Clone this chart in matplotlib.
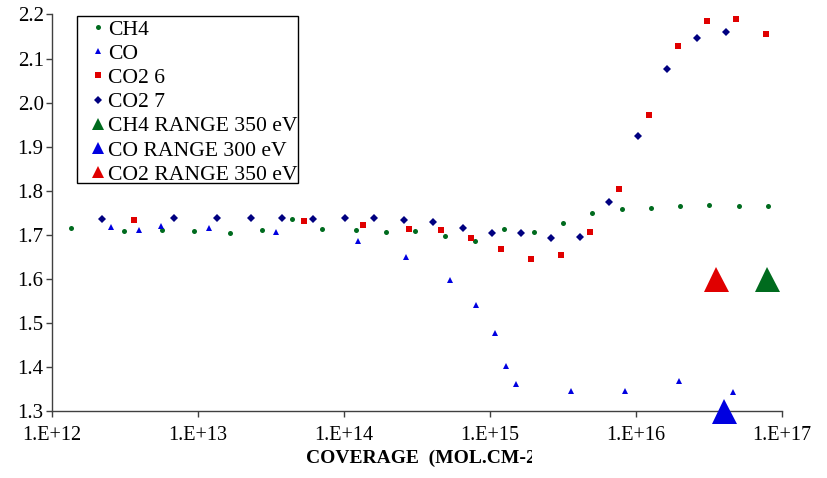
import matplotlib
matplotlib.use('Agg')
import matplotlib.pyplot as plt
from matplotlib.lines import Line2D
from matplotlib.patches import Rectangle
from matplotlib.transforms import Bbox, TransformedBbox

plt.rcParams['font.family'] = ['Liberation Serif', 'DejaVu Serif']

# CH4
ch4_x = [1.35e12, 3.13e12, 5.64e12, 9.4e12, 1.66e13, 2.73e13, 4.39e13, 7.1e13,
         1.20e14, 1.95e14, 3.08e14, 4.94e14, 7.9e14, 1.25e15, 1.99e15, 3.16e15,
         5.02e15, 7.98e15, 1.26e16, 2.01e16, 3.18e16, 5.05e16, 7.98e16]
ch4_y = [1.715, 1.709, 1.711, 1.708, 1.704, 1.711, 1.736, 1.713,
         1.711, 1.706, 1.709, 1.698, 1.686, 1.713, 1.707, 1.727,
         1.749, 1.758, 1.760, 1.766, 1.767, 1.766, 1.766]

# CO
co_x = [2.55e12, 3.94e12, 5.58e12, 1.19e13, 3.42e13, 1.24e14, 2.65e14, 5.36e14,
        7.98e14, 1.08e15, 1.28e15, 1.51e15, 3.56e15, 8.4e15, 1.98e16, 4.61e16]
co_y = [1.717, 1.711, 1.720, 1.715, 1.707, 1.686, 1.650, 1.597,
        1.540, 1.478, 1.402, 1.362, 1.345, 1.346, 1.367, 1.344]

# CO2 6
co2_6_x = [3.63e12, 5.35e13, 1.36e14, 2.77e14, 4.64e14, 7.41e14, 1.19e15, 1.92e15,
           3.05e15, 4.86e15, 7.69e15, 1.22e16, 1.95e16, 3.08e16, 4.86e16, 7.76e16]
co2_6_y = [1.733, 1.732, 1.722, 1.714, 1.711, 1.692, 1.667, 1.645,
           1.654, 1.706, 1.805, 1.972, 2.128, 2.186, 2.189, 2.156]

# CO2 7
co2_7_x = [2.19e12, 6.82e12, 1.36e13, 2.31e13, 3.78e13, 6.17e13, 1.01e14, 1.61e14,
           2.56e14, 4.07e14, 6.5e14, 1.03e15, 1.64e15, 2.6e15, 4.13e15, 6.56e15,
           1.04e16, 1.64e16, 2.61e16, 4.13e16]
co2_7_y = [1.736, 1.738, 1.738, 1.738, 1.739, 1.736, 1.737, 1.737,
           1.733, 1.729, 1.715, 1.703, 1.704, 1.692, 1.695, 1.774,
           1.924, 2.077, 2.147, 2.161]

# range markers
ch4_range = (7.85e16, 1.6)
co_range = (4.01e16, 1.3)
co2_range = (3.52e16, 1.6)

x_ticks = [1e12, 1e13, 1e14, 1e15, 1e16, 1e17]
x_tick_labels = ['1.E+12', '1.E+13', '1.E+14', '1.E+15', '1.E+16', '1.E+17']
y_ticks = [1.3, 1.4, 1.5, 1.6, 1.7, 1.8, 1.9, 2.0, 2.1, 2.2]

green = '#006b1e'
blue = '#0000e0'
red = '#e00000'
navy = '#000080'

fig = plt.figure(figsize=(8.28, 4.78), dpi=100)
ax = fig.add_axes([52 / 828, 67 / 478, 730 / 828, 396.5 / 478])

ax.plot(ch4_x, ch4_y, 'o', ms=3.6, color=green, mew=0, label='CH4', clip_on=False)
ax.plot(co_x, co_y, '^', ms=5, color=blue, mew=0, label='CO', clip_on=False)
ax.plot(co2_6_x, co2_6_y, 's', ms=5, color=red, mew=0, label='CO2 6', clip_on=False)
ax.plot(co2_7_x, co2_7_y, 'D', ms=3.6, color=navy, mew=0, label='CO2 7', clip_on=False)
ax.plot(*ch4_range, '^', ms=18, color=green, mew=0, clip_on=False)
ax.plot(*co_range, '^', ms=18, color=blue, mew=0, clip_on=False, zorder=5)
ax.plot(*co2_range, '^', ms=18, color=red, mew=0, clip_on=False)

ax.set_xscale('log')
ax.set_xlim(1e12, 1e17)
ax.set_ylim(1.3, 2.2)
ax.set_xticks(x_ticks)
ax.set_xticklabels(x_tick_labels)
ax.xaxis.set_minor_locator(plt.NullLocator())
ax.set_yticks(y_ticks)
ax.set_yticklabels(['%.1f' % v for v in y_ticks])
ax.tick_params(direction='out', length=4, width=1, color='#404040',
               labelsize=14.5, colors='black')
ax.tick_params(axis='x', pad=7)
ax.tick_params(axis='y', pad=2, labelsize=15)

for side in ['top', 'right']:
    ax.spines[side].set_visible(False)
for side in ['left', 'bottom']:
    ax.spines[side].set_color('#404040')
    ax.spines[side].set_linewidth(1)

# axis title, cut off at the right like the original export
title = fig.text(306 / 828, 1 - 458 / 478, 'COVERAGE  (MOL.CM-2)', fontsize=14,
                 fontweight='bold', ha='left', va='center')
title.set_clip_box(TransformedBbox(Bbox.from_extents(0, 0, 532 / 828, 1),
                                   fig.transFigure))
title.set_clip_on(True)

# legend frame drawn on its own so the long label can run up to the border
box = Rectangle((77 / 828, 1 - 183 / 478), 221 / 828, 167 / 478,
                transform=fig.transFigure, facecolor='white', edgecolor='black',
                lw=1, clip_on=False, zorder=4.5)
ax.add_patch(box)

handles = [
    Line2D([], [], ls='none', marker='o', ms=3.6, color=green, mew=0),
    Line2D([], [], ls='none', marker='^', ms=5, color=blue, mew=0),
    Line2D([], [], ls='none', marker='s', ms=5, color=red, mew=0),
    Line2D([], [], ls='none', marker='D', ms=3.6, color=navy, mew=0),
    Line2D([], [], ls='none', marker='^', ms=8, color=green, mew=0),
    Line2D([], [], ls='none', marker='^', ms=8, color=blue, mew=0),
    Line2D([], [], ls='none', marker='^', ms=8, color=red, mew=0),
]
labels = ['CH4', 'CO', 'CO2 6', 'CO2 7', 'CH4 RANGE 350 eV',
          'CO RANGE 300 eV', 'CO2 RANGE 350 eV']
leg = ax.legend(handles, labels, loc='upper left',
                bbox_to_anchor=(87.4 / 828, 1 - 19.5 / 478),
                bbox_transform=fig.transFigure, fontsize=15.6,
                frameon=False, borderpad=0, handlelength=0.95,
                handletextpad=0.0, labelspacing=0.185, borderaxespad=0)

plt.savefig('out.png', dpi=100)
